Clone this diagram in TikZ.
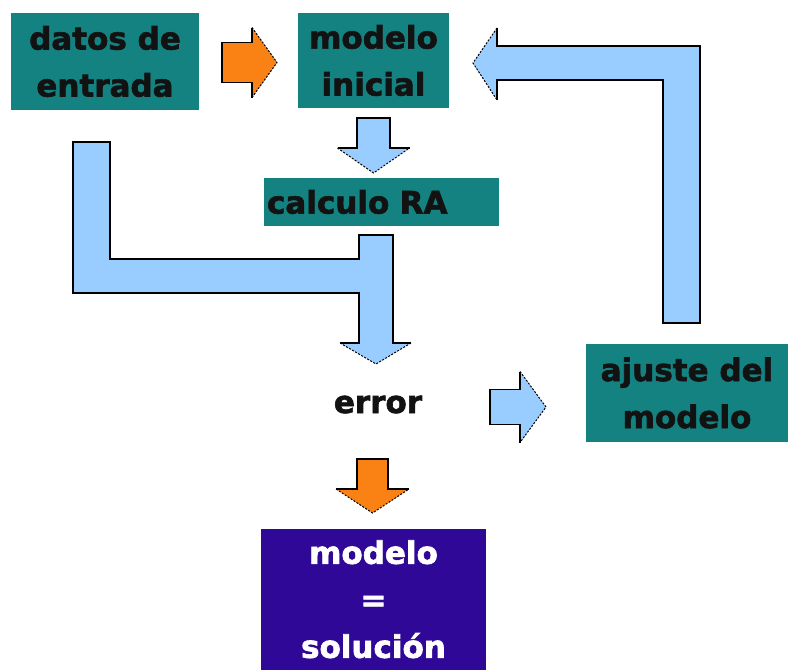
\documentclass[tikz,border=0pt]{standalone}
\usepackage{fontspec}
\setmainfont{DejaVu Sans}[BoldFeatures={FakeBold=2}]

\definecolor{tealbox}{RGB}{20,130,128}
\definecolor{solbox}{RGB}{48,8,152}
\definecolor{pale}{RGB}{153,204,255}
\definecolor{naranja}{RGB}{250,130,20}
\definecolor{ink}{RGB}{18,18,18}

\tikzset{
	caja/.style={fill=tealbox, text=ink, font=\fontsize{31}{47}\selectfont\bfseries, align=center, inner sep=0pt},
	rim/.style={draw=black, line width=1.4pt, line join=miter},
	tiprim/.style={draw=black, line width=1pt, dash pattern=on 2pt off 1.5pt},
}

% block arrows: colour, centre, start, head base, tip, shaft half width, head half width
\newcommand{\downblock}[7]{%
	\fill[#1] (#2-#6,#3) -- (#2+#6,#3) -- (#2+#6,#4) -- (#2+#7,#4) -- (#2,#5) -- (#2-#7,#4) -- (#2-#6,#4) -- cycle;
	\draw[rim] (#2-#7,#4) -- (#2-#6,#4) -- (#2-#6,#3) -- (#2+#6,#3) -- (#2+#6,#4) -- (#2+#7,#4);
	\draw[tiprim] (#2-#7,#4) -- (#2,#5) -- (#2+#7,#4);
}
\newcommand{\rightblock}[7]{%
	\fill[#1] (#3,#2-#6) -- (#3,#2+#6) -- (#4,#2+#6) -- (#4,#2+#7) -- (#5,#2) -- (#4,#2-#7) -- (#4,#2-#6) -- cycle;
	\draw[rim] (#4,#2-#7) -- (#4,#2-#6) -- (#3,#2-#6) -- (#3,#2+#6) -- (#4,#2+#6) -- (#4,#2+#7);
	\draw[tiprim] (#4,#2-#7) -- (#5,#2) -- (#4,#2+#7);
}

\begin{document}
\begin{tikzpicture}[x=1pt, y=-1pt]
	\useasboundingbox (0,0) rectangle (788,670);

	\node[caja, minimum width=188, minimum height=97] (datos) at (105,61.5) {datos de\\entrada};
	\node[caja, minimum width=151, minimum height=95] (inicial) at (373.5,60.5) {modelo\\inicial};
	\node[caja, minimum width=235, minimum height=48, text width=229, align=left] (calculo) at (381.5,202) {calculo RA};
	\node[font=\fontsize{31}{47}\selectfont\bfseries, text=ink, anchor=base] (error) at (378,413) {error};
	\node[caja, minimum width=202, minimum height=98] (ajuste) at (687,393) {ajuste del\\modelo};
	\node[caja, fill=solbox, text=white, minimum width=225, minimum height=140.5] (solucion) at (373.5,599.25) {modelo\\=\\solución};

	\rightblock{naranja}{62.5}{222}{252}{277}{20}{35}
	\downblock{pale}{373.5}{118}{148}{173}{16.5}{36}
	\rightblock{pale}{407}{490}{520}{546}{17.5}{35.5}
	\downblock{naranja}{372.5}{459}{489}{513}{15.5}{36.5}

	% datos + calculo -> error
	\fill[pale] (73,142) -- (110,142) -- (110,259) -- (359,259) -- (359,235) -- (393,235) -- (393,343) -- (411,343) -- (376,364) -- (340,343) -- (359,343) -- (359,293) -- (73,293) -- cycle;
	\draw[rim] (340,343) -- (359,343) -- (359,293) -- (73,293) -- (73,142) -- (110,142) -- (110,259) -- (359,259) -- (359,235) -- (393,235) -- (393,343) -- (411,343);
	\draw[tiprim] (340,343) -- (376,364) -- (411,343);

	% ajuste -> inicial
	\fill[pale] (663,323) -- (700,323) -- (700,46) -- (497,46) -- (497,28) -- (473,63) -- (497,100) -- (497,80) -- (663,80) -- cycle;
	\draw[rim] (497,28) -- (497,46) -- (700,46) -- (700,323) -- (663,323) -- (663,80) -- (497,80) -- (497,100);
	\draw[tiprim] (497,28) -- (473,63) -- (497,100);

\end{tikzpicture}
\end{document}
